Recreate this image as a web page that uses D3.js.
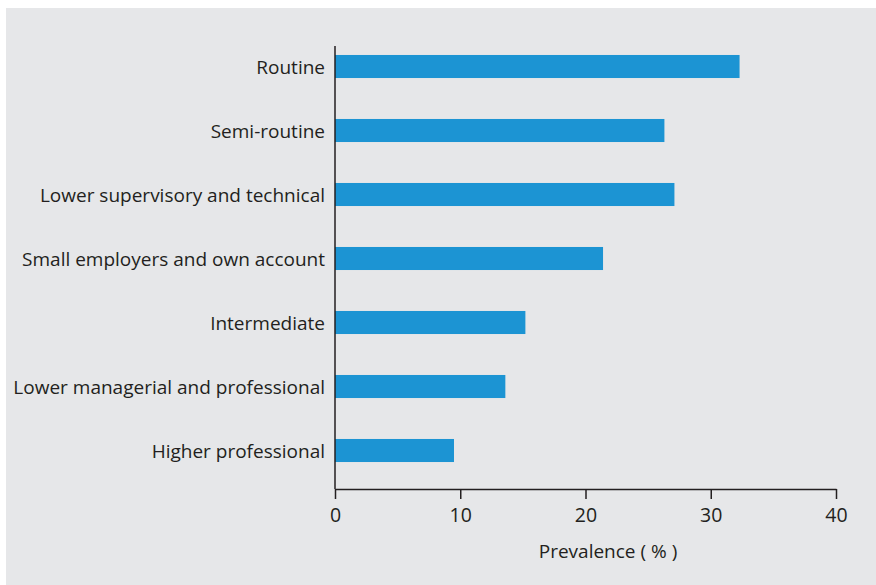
<!DOCTYPE html>
<html><head><meta charset="utf-8">
<script src="https://cdn.jsdelivr.net/npm/d3@7"></script>
<style>html,body{margin:0;padding:0;background:#fff;}svg{display:block;}</style>
</head><body>
<svg id="c" width="876" height="585"></svg>
<script>
const categories = ["Routine","Semi-routine","Lower supervisory and technical","Small employers and own account","Intermediate","Lower managerial and professional","Higher professional"];
const values = [32.3, 26.3, 27.1, 21.4, 15.2, 13.6, 9.5];
const xTicks = [0, 10, 20, 30, 40];
const xTitle = "Prevalence ( % )";

const svg = d3.select("#c");
const font = "'Open Sans', sans-serif";
const textCol = "#231f20";
svg.append("rect").attr("x",6).attr("y",8).attr("width",870).attr("height",577).attr("fill","#e6e7e9");

const x = d3.scaleLinear().domain([0,40]).range([335,836]);
const y = d3.scaleBand().domain(categories).range([34.5,482.5]).paddingInner(0.64).paddingOuter(0.32);

svg.append("g").selectAll("rect").data(values).join("rect")
  .attr("x", x(0)).attr("y",(d,i)=>y(categories[i]))
  .attr("width", d=>x(d)-x(0)).attr("height", y.bandwidth())
  .attr("fill","#1c94d3");

svg.append("line").attr("x1",335).attr("x2",335).attr("y1",46).attr("y2",489).attr("stroke","#231f20").attr("stroke-width",1.5);
svg.append("g").selectAll("text").data(categories).join("text")
  .attr("x",325).attr("y",d=>y(d)+y.bandwidth()/2+1).attr("dy","0.35em")
  .attr("text-anchor","end").attr("font-family",font).attr("font-size",19).attr("fill",textCol).text(d=>d);

const xa = svg.append("g").attr("transform","translate(0,489)")
  .call(d3.axisBottom(x).tickValues(xTicks).tickSize(10).tickPadding(9).tickSizeOuter(0));
xa.select(".domain").attr("stroke","#231f20").attr("stroke-width",1.5);
xa.selectAll(".tick line").attr("stroke","#231f20").attr("stroke-width",1.5);
xa.selectAll(".tick text").attr("font-family",font).attr("font-size",19.5).attr("fill",textCol);

svg.append("text").attr("x",608).attr("y",558).attr("text-anchor","middle")
  .attr("font-family",font).attr("font-size",19).attr("fill",textCol).text(xTitle);
</script>
</body></html>
